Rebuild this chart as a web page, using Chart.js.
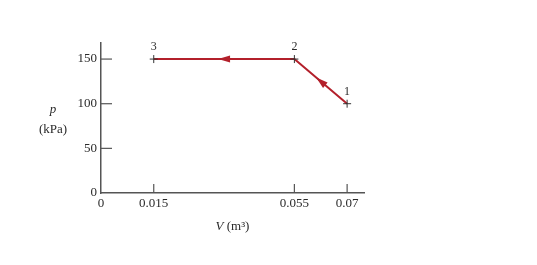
<!DOCTYPE html>
<html><head><meta charset="utf-8">
<script src="https://cdn.jsdelivr.net/npm/chart.js@4/dist/chart.umd.min.js"></script>
<style>html,body{margin:0;padding:0;background:#fff}#wrap{width:537px;height:265px}</style>
</head><body><div id="wrap"><canvas id="c" width="537" height="265"></canvas></div>
<script>
const volumes = [0.07, 0.055, 0.015];
const pressures = [100, 150, 150];
const pointNames = ['1', '2', '3'];
const xTicks = [0, 0.015, 0.055, 0.07];
const xTickLabels = ['0', '0.015', '0.055', '0.07'];
const yTicks = [0, 50, 100, 150];
const yTickLabels = ['0', '50', '100', '150'];

const LINE = '#b3202b';
const AXIS = '#555';
const TXT = '#2a2a2a';
const SERIF = "'Liberation Serif', 'DejaVu Serif', serif";
const FS = 13;

const decor = {
  id: 'decor',
  afterDatasetsDraw(chart) {
    const ctx = chart.ctx, xs = chart.scales.x, ys = chart.scales.y;
    ctx.save();
    ctx.strokeStyle = AXIS; ctx.lineWidth = 1.2;
    const x0 = xs.getPixelForValue(0), y0 = ys.getPixelForValue(0);
    yTicks.forEach(v => { if (v === 0) return; const y = ys.getPixelForValue(v);
      ctx.beginPath(); ctx.moveTo(x0, y); ctx.lineTo(x0 + 11, y); ctx.stroke(); });
    xTicks.forEach(v => { if (v === 0) return; const x = xs.getPixelForValue(v);
      ctx.beginPath(); ctx.moveTo(x, y0); ctx.lineTo(x, y0 - 9); ctx.stroke(); });
    ctx.fillStyle = LINE;
    for (let i = 0; i < volumes.length - 1; i++) {
      const ax = xs.getPixelForValue(volumes[i]), ay = ys.getPixelForValue(pressures[i]);
      const bx = xs.getPixelForValue(volumes[i+1]), by = ys.getPixelForValue(pressures[i+1]);
      const mx = (ax + bx) / 2, my = (ay + by) / 2;
      const ang = Math.atan2(by - ay, bx - ax);
      ctx.save(); ctx.translate(mx, my); ctx.rotate(ang);
      ctx.beginPath(); ctx.moveTo(6, 0); ctx.lineTo(-6, -3.5); ctx.lineTo(-6, 3.5); ctx.closePath(); ctx.fill();
      ctx.restore();
    }
    ctx.fillStyle = TXT; ctx.font = '12px ' + SERIF; ctx.textAlign = 'center'; ctx.textBaseline = 'alphabetic';
    volumes.forEach((v, i) => {
      const x = xs.getPixelForValue(v), y = ys.getPixelForValue(pressures[i]);
      ctx.fillText(pointNames[i], x, y - 9);
    });
    ctx.textBaseline = 'middle';
    ctx.font = 'italic ' + FS + 'px ' + SERIF;
    ctx.fillText('p', 53, 110);
    ctx.font = FS + 'px ' + SERIF;
    ctx.fillText('(kPa)', 53, 130);
    const cx = (xs.left + xs.right) / 2;
    ctx.font = 'italic ' + FS + 'px ' + SERIF;
    const wV = ctx.measureText('V').width;
    ctx.font = FS + 'px ' + SERIF;
    const rest = ' (m³)';
    const wR = ctx.measureText(rest).width;
    const sx = cx - (wV + wR) / 2;
    ctx.textAlign = 'left';
    ctx.font = 'italic ' + FS + 'px ' + SERIF; ctx.fillText('V', sx, 227);
    ctx.font = FS + 'px ' + SERIF; ctx.fillText(rest, sx + wV, 227);
    ctx.restore();
  }
};

new Chart(document.getElementById('c'), {
  type: 'scatter',
  data: { datasets: [{
    data: volumes.map((v, i) => ({ x: v, y: pressures[i] })),
    showLine: true, borderColor: LINE, borderWidth: 2, tension: 0,
    pointStyle: 'cross', pointRadius: 4, pointBorderColor: '#333', pointBorderWidth: 1,
    pointBackgroundColor: '#333', clip: false
  }]},
  options: {
    responsive: false, animation: false, devicePixelRatio: 1,
    layout: { padding: { top: 43, right: 173, left: 0, bottom: 0 } },
    plugins: { legend: { display: false }, tooltip: { enabled: false } },
    scales: {
      x: {
        type: 'linear', min: 0, max: 0.0748,
        afterBuildTicks: s => { s.ticks = xTicks.map(v => ({ value: v })); },
        afterFit: s => { s.height = 72; },
        grid: { display: false, drawTicks: false },
        border: { display: true, color: AXIS, width: 1.5 },
        ticks: { padding: 3, color: TXT, font: { family: SERIF, size: FS }, maxRotation: 0,
          callback: (v, i) => xTickLabels[i] }
      },
      y: {
        type: 'linear', min: 0, max: 168,
        afterBuildTicks: s => { s.ticks = yTicks.map(v => ({ value: v })); },
        afterFit: s => { s.width = 101; },
        grid: { display: false, drawTicks: false },
        border: { display: true, color: AXIS, width: 1.5 },
        ticks: { padding: 4, color: TXT, font: { family: SERIF, size: FS },
          callback: (v, i) => yTickLabels[i] }
      }
    }
  },
  plugins: [decor]
});
</script></body></html>
